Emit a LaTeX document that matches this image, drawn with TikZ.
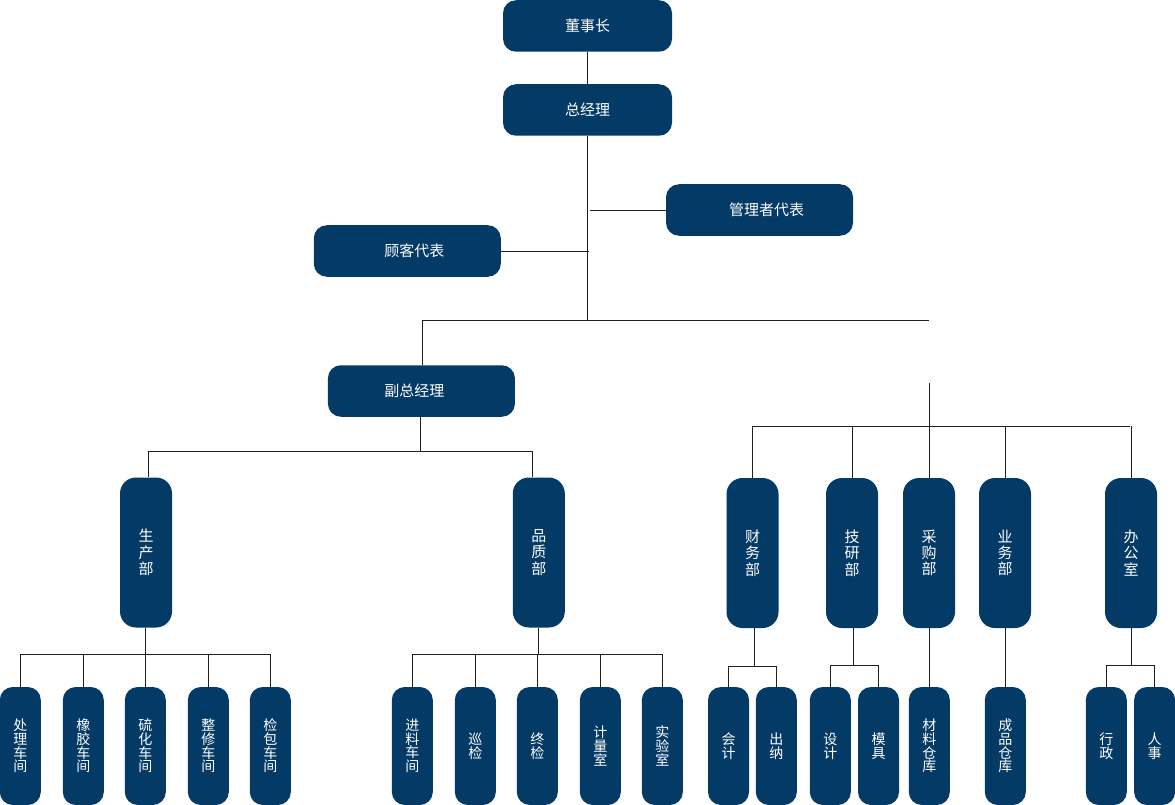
\documentclass[tikz,border=0pt]{standalone}
\usepackage{fontspec}
\newfontfamily\cjk{Noto Sans CJK SC}
\definecolor{boxblue}{HTML}{033A66}
\begin{document}
\begin{tikzpicture}[x=1pt,y=-1pt,
  box/.style={fill=boxblue, inner sep=0pt, text=white, align=center},
  hbox/.style={box, rounded corners=13pt, minimum width=#1, minimum height=51.5pt, font=\cjk\fontsize{15}{16}\selectfont},
  vbox/.style={box, rounded corners=16pt, minimum width=52pt, minimum height=150pt, font=\cjk\fontsize{15}{16.3}\selectfont},
  sbox/.style={box, rounded corners=13pt, minimum width=41pt, minimum height=118pt, font=\cjk\fontsize{14}{13.6}\selectfont},
  conn/.style={draw=black!88, line width=0.9pt}]
\useasboundingbox (0,0) rectangle (1175,805);

% top level
\node[hbox=169pt] (dsz) at (587.5,26) {董事长};
\node[hbox=169pt] (zjl) at (587.5,110) {总经理};
\node[hbox=187pt] (glz) at (759.5,210) {\hspace{14pt}管理者代表};
\node[hbox=187pt] (gk) at (407.3,251) {\hspace{14pt}顾客代表};
\node[hbox=187pt] (fz) at (421.4,391) {副总经理\hspace{14pt}};

% departments
\node[vbox] (sc) at (146,552.5) {生\\产\\部};
\node[vbox] (pz) at (538.8,552.5) {品\\质\\部};
\node[vbox] (cw) at (752.5,553) {财\\务\\部};
\node[vbox] (jy) at (852,553) {技\\研\\部};
\node[vbox] (cg) at (929,553) {采\\购\\部};
\node[vbox] (yw) at (1005,553) {业\\务\\部};
\node[vbox] (bg) at (1131,553) {办\\公\\室};

% bottom units
\node[sbox] (a1) at (20.3,746) {处\\理\\车\\间};
\node[sbox] (a2) at (83.3,746) {橡\\胶\\车\\间};
\node[sbox] (a3) at (145.3,746) {硫\\化\\车\\间};
\node[sbox] (a4) at (208.3,746) {整\\修\\车\\间};
\node[sbox] (a5) at (270.3,746) {检\\包\\车\\间};

\node[sbox] (b1) at (412.3,746) {进\\料\\车\\间};
\node[sbox] (b2) at (475.3,746) {巡\\检};
\node[sbox] (b3) at (537.3,746) {终\\检};
\node[sbox] (b4) at (600.3,746) {计\\量\\室};
\node[sbox] (b5) at (662.3,746) {实\\验\\室};

\node[sbox] (c1) at (728.5,746) {会\\计};
\node[sbox] (c2) at (776.3,746) {出\\纳};
\node[sbox] (d1) at (830.3,746) {设\\计};
\node[sbox] (d2) at (878.5,746) {模\\具};
\node[sbox] (e1) at (929.3,746) {材\\料\\仓\\库};
\node[sbox] (f1) at (1005.3,746) {成\\品\\仓\\库};
\node[sbox] (g1) at (1106.3,746) {行\\政};
\node[sbox] (g2) at (1154.6,746) {人\\事};

% coordinates
\coordinate (t1) at (587.5,320);
\coordinate (hL) at (422.4,320);
\coordinate (hR) at (929,320);
\coordinate (jg) at (590,210);
\coordinate (jk) at (588.6,250);
\coordinate (r0) at (929,383);
\coordinate (rL) at (753.3,426);
\coordinate (rR) at (1130.3,426);
\coordinate (m1) at (420.3,451);
\coordinate (mL) at (148.7,451);
\coordinate (mR) at (532.3,451);
\coordinate (pa) at (145.3,654);
\coordinate (pb) at (538.3,654);
\coordinate (pc) at (754.3,666);
\coordinate (pd) at (853.3,665.5);
\coordinate (pg) at (1131.7,665.5);

% connectors
\draw[conn] (dsz) -- (zjl);
\draw[conn] (zjl.south) -- (t1);
\draw[conn] (hL) -- (hR);
\draw[conn] (hL) -- (hL |- fz.north);
\draw[conn] (jg) -- (glz.west);
\draw[conn] (gk.east) -- (gk.east -| jk);

\draw[conn] (m1 |- fz.south) -- (m1);
\draw[conn] (mL) -- (mR);
\draw[conn] (mL) -- (mL |- sc.north);
\draw[conn] (mR) -- (mR |- pz.north);

\draw[conn] (r0) -- (r0 |- rL);
\draw[conn] (rL) -- (rR);
\foreach \n in {cw,jy,cg,yw,bg} \draw[conn] (\n.north |- rL) -- (\n.north);

\draw[conn] (sc.south -| pa) -- (pa);
\draw[conn] (a1.north |- pa) -- (a5.north |- pa);
\foreach \n in {a1,a2,a3,a4,a5} \draw[conn] (\n.north |- pa) -- (\n.north);

\draw[conn] (pz.south -| pb) -- (pb);
\draw[conn] (b1.north |- pb) -- (b5.north |- pb);
\foreach \n in {b1,b2,b3,b4,b5} \draw[conn] (\n.north |- pb) -- (\n.north);

\draw[conn] (pc |- cw.south) -- (pc);
\draw[conn] (c1.north |- pc) -- (c2.north |- pc);
\foreach \n in {c1,c2} \draw[conn] (\n.north |- pc) -- (\n.north);

\draw[conn] (pd |- jy.south) -- (pd);
\draw[conn] (d1.north |- pd) -- (d2.north |- pd);
\foreach \n in {d1,d2} \draw[conn] (\n.north |- pd) -- (\n.north);

\draw[conn] (cg.south -| e1.north) -- (e1.north);
\draw[conn] (yw.south -| f1.north) -- (f1.north);

\draw[conn] (pg |- bg.south) -- (pg);
\draw[conn] (g1.north |- pg) -- (g2.north |- pg);
\foreach \n in {g1,g2} \draw[conn] (\n.north |- pg) -- (\n.north);
\end{tikzpicture}
\end{document}
